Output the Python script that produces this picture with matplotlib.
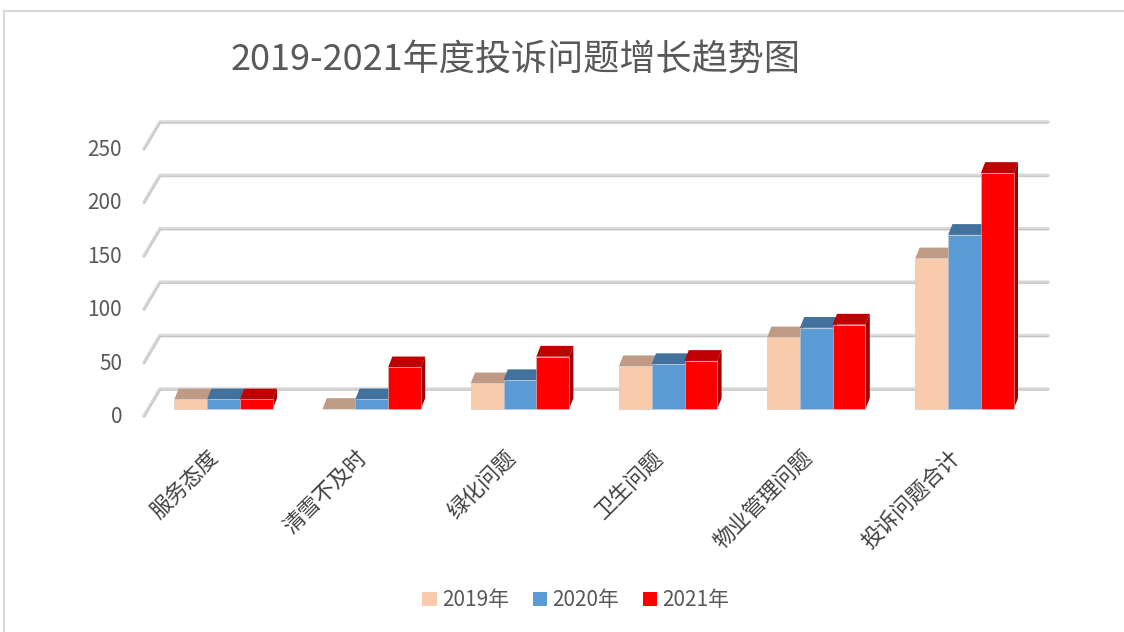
import matplotlib
matplotlib.use("Agg")
import matplotlib.pyplot as plt
from matplotlib.patches import Polygon, Patch
from matplotlib.lines import Line2D

plt.rcParams['font.family'] = ['Noto Sans CJK SC', 'DejaVu Sans']

# ---- data ----
categories = ['服务态度', '清雪不及时', '绿化问题', '卫生问题', '物业管理问题', '投诉问题合计']
series_names = ['2019年', '2020年', '2021年']
y2019 = [9, 0, 24, 40, 67, 141]
y2020 = [9, 9, 27, 42, 76, 163]
y2021 = [9, 39, 49, 45, 79, 221]
yticks = [0, 50, 100, 150, 200, 250]
title = '2019-2021年度投诉问题增长趋势图'

# ---- styles ----
front_cols = ['#F8CBAD', '#5B9BD5', '#FF0000']
top_cols = ['#BF9A85', '#41719C', '#C00000']
side_cols = ['#A88672', '#325F86', '#A00000']
text_col = '#595959'

W, H = 1124, 632
fig = plt.figure(figsize=(W / 100, H / 100), dpi=100)

# pixel mapping of the plot region
X0, XS = 223.5, 148.2      # pixel x of category 0, pixels per category
Y0, YS = 409.0, 1.068      # pixel y of value 0, pixels per unit
AL, AR, AT, AB = 100, 1100, 100, 440
ax = fig.add_axes([AL / W, (H - AB) / H, (AR - AL) / W, (AB - AT) / H])
ax.set_xlim((AL - X0) / XS, (AR - X0) / XS)
ax.set_ylim((Y0 - AB) / YS, (Y0 - AT) / YS)
ax.axis('off')

def px2x(p):
    return (p - X0) / XS

def py2y(p):
    return (Y0 - p) / YS

DX = 4.3 / XS     # bar depth offsets in data units
DY = 10.8 / YS
BACK_DY = 20 / YS
FLOOR_DY = -7 / YS

# ---- back wall gridlines ----
for v in yticks:
    yb = v + BACK_DY
    yf = v + FLOOR_DY
    xs = [px2x(144), px2x(160), px2x(1048)]
    ys = [yf, yb, yb]
    ax.plot(xs, ys, color='#DADADA', lw=2.6, solid_capstyle='round', zorder=1)
    ax.plot(xs, [y - 0.9 / YS for y in ys], color='#C4C4C4', lw=0.7, zorder=1.1)
    ax.text(px2x(122), v - 8 / YS, str(v), ha='right', va='center',
            fontsize=15, color=text_col)

# ---- bars ----
bw = 32.8 / XS
all_series = [y2019, y2020, y2021]
for j, vals in enumerate(all_series):
    off = (j - 1) * bw
    xs = [i + off for i in range(len(categories))]
    z = 3 + j
    ax.bar(xs, vals, width=bw, color=front_cols[j], edgecolor='#C8C8C8',
           linewidth=0.4, zorder=z + 0.2)
    for x, v in zip(xs, vals):
        l, r = x - bw / 2, x + bw / 2
        top = Polygon([(l, v), (r, v), (r + DX, v + DY), (l + DX, v + DY)],
                      closed=True, facecolor=top_cols[j], edgecolor='none', zorder=z)
        side = Polygon([(r, 0), (r + DX, DY), (r + DX, v + DY), (r, v)],
                       closed=True, facecolor=side_cols[j], edgecolor='none', zorder=z)
        ax.add_patch(top)
        ax.add_patch(side)

# ---- category labels ----
for i, c in enumerate(categories):
    ax.text(i - 8 / XS, py2y(454), c, rotation=45, ha='right', va='center',
            rotation_mode='anchor', fontsize=15.5, color='#404040',
            fontweight='light', clip_on=False)

# ---- title ----
fig.text(516 / W, 1 - 60 / H, title, ha='center', va='center',
         fontsize=26, color=text_col)

# ---- legend ----
handles = [Patch(facecolor=c, edgecolor='none') for c in front_cols]
leg = fig.legend(handles, series_names, loc='center', ncol=3,
                 bbox_to_anchor=(576 / W, 1 - 600 / H), frameon=False,
                 fontsize=15, handlelength=0.68, handleheight=0.68,
                 handletextpad=0.25, columnspacing=1.15)
for t in leg.get_texts():
    t.set_color(text_col)

# ---- chart frame ----
fig.add_artist(Line2D([4 / W, 1.0], [1 - 11 / H, 1 - 11 / H], color='#D9D9D9', lw=1.5,
                      transform=fig.transFigure))
fig.add_artist(Line2D([4 / W, 4 / W], [1 - 11 / H, 0.0], color='#D9D9D9', lw=1.5,
                      transform=fig.transFigure))

fig.savefig('out.png', dpi=100)
